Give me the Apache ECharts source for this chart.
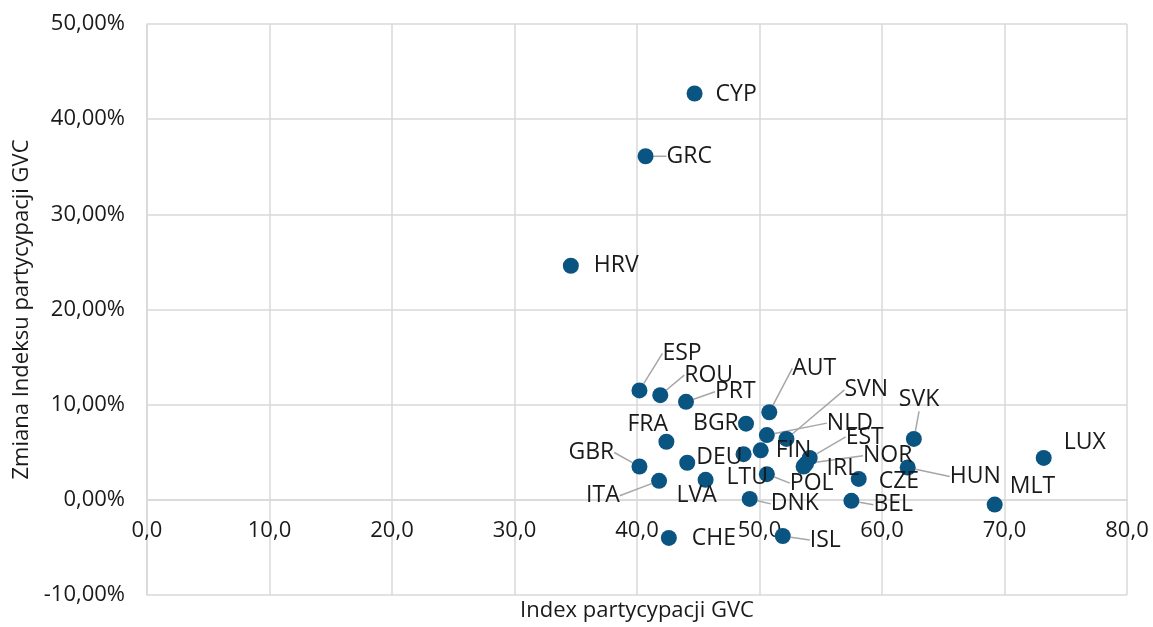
<!DOCTYPE html>
<html>
<head>
<meta charset="utf-8">
<script src="https://cdn.jsdelivr.net/npm/echarts@6/dist/echarts.min.js"></script>
<style>
  html, body { margin: 0; padding: 0; background: #fff; }
  #chart { width: 1153px; height: 627px; }
</style>
</head>
<body>
<div id="chart"></div>
<script>
// kraje
const countries = ['CYP', 'GRC', 'HRV', 'ESP', 'ROU', 'PRT', 'AUT', 'BGR', 'NLD', 'SVN',
    'FIN', 'FRA', 'DEU', 'GBR', 'ITA', 'LVA', 'LTU', 'POL', 'DNK', 'CHE',
    'ISL', 'EST', 'NOR', 'IRL', 'CZE', 'BEL', 'SVK', 'HUN', 'MLT', 'LUX'];
// Index partycypacji GVC
const gvcIndex = [44.7, 40.7, 34.6, 40.2, 41.9, 44.0, 50.8, 48.9, 50.6, 52.2,
    50.1, 42.4, 44.1, 40.2, 41.8, 45.6, 48.7, 50.6, 49.2, 42.6,
    51.9, 54.1, 53.8, 53.6, 58.1, 57.5, 62.6, 62.1, 69.2, 73.2];
// Zmiana indeksu (%)
const gvcChange = [42.7, 36.1, 24.6, 11.5, 11.0, 10.3, 9.2, 8.0, 6.8, 6.4,
    5.2, 6.1, 3.9, 3.5, 2.0, 2.1, 4.8, 2.7, 0.1, -4.0,
    -3.8, 4.4, 3.8, 3.5, 2.2, -0.1, 6.4, 3.4, -0.5, 4.4];

// przesuniecie etykiet (lewa krawedz / srodek wzgledem punktu)
const labelOffsets = {
    CYP: [21, 1], GRC: [21, 0], HRV: [23, 0], ESP: [23, -37], ROU: [24, -20],
    PRT: [29, -10], AUT: [23, -44], BGR: [-53, 0], NLD: [60, -12], SVN: [58, -49],
    FIN: [15, 0], FRA: [-39, -17], DEU: [9, -5], GBR: [-71, -14], ITA: [-73, 15],
    LVA: [-29, 16], LTU: [-17, 23], POL: [23, 9], DNK: [21, 5], CHE: [23, 1],
    ISL: [27, 4], EST: [36, -21], NOR: [57, -8], IRL: [23, 2], CZE: [20, 3],
    BEL: [22, 4], SVK: [-15, -39], HUN: [42, 9], MLT: [15, -18], LUX: [20, -16]
};
const withLeader = ['GRC', 'ESP', 'ROU', 'PRT', 'AUT', 'NLD', 'SVN', 'EST', 'NOR',
    'GBR', 'ITA', 'POL', 'DNK', 'ISL', 'BEL', 'SVK', 'HUN'];

const FONT = '"Open Sans", "Noto Sans", sans-serif';
const R = 8; // promien punktu
const GRID_COLOR = '#d9d9d9';

let data = countries.map(function (c, i) {
    return {
        name: c,
        value: [gvcIndex[i], gvcChange[i]],
        labelLine: { show: withLeader.indexOf(c) >= 0 }
    };
});

var myChart = echarts.init(document.getElementById('chart'));
option = {
    animation: false,
    grid: {
        left: 147,
        right: 26,
        top: 24,
        bottom: 32,
        outerBoundsMode: 'none',
        containLabel: false
    },
    xAxis: {
        type: 'value',
        min: 0,
        max: 80,
        interval: 10,
        // os X przesunieta na poziom 0% (jak w Excelu)
        offset: -95,
        name: 'Index partycypacji GVC',
        nameLocation: 'middle',
        nameGap: 100,
        nameTextStyle: { fontFamily: FONT, fontSize: 22, color: '#1a1a1a' },
        axisLine: { show: true, onZero: false, lineStyle: { color: GRID_COLOR, width: 1.5 } },
        axisTick: { show: false },
        axisLabel: {
            margin: 20,
            fontFamily: FONT,
            fontSize: 22,
            color: '#1a1a1a',
            formatter: function (v) { return v.toFixed(1).replace('.', ','); }
        },
        splitLine: { lineStyle: { color: GRID_COLOR, width: 1.5 } }
    },
    yAxis: {
        type: 'value',
        min: -10,
        max: 50,
        interval: 10,
        name: 'Zmiana Indeksu partycypacji GVC',
        nameLocation: 'middle',
        nameGap: 112,
        nameTextStyle: { fontFamily: FONT, fontSize: 22, color: '#1a1a1a' },
        axisLine: { show: true, onZero: false, lineStyle: { color: GRID_COLOR, width: 1.5 } },
        axisTick: { show: false },
        axisLabel: {
            margin: 22,
            fontFamily: FONT,
            fontSize: 22,
            color: '#1a1a1a',
            formatter: function (v) { return v.toFixed(2).replace('.', ',') + '%'; }
        },
        splitLine: { lineStyle: { color: GRID_COLOR, width: 1.5 } }
    },
    series: [{
        type: 'scatter',
        symbolSize: R * 2,
        itemStyle: { color: '#0a5482', opacity: 1 },
        data: data,
        label: {
            show: true,
            position: 'right',
            distance: 0,
            formatter: '{b}',
            fontFamily: FONT,
            fontSize: 23,
            color: '#1a1a1a'
        },
        labelLine: {
            lineStyle: { color: '#a6a6a6', width: 1.5 }
        },
        labelLayout: function (params) {
            let off = labelOffsets[countries[params.dataIndex]];
            return { dx: off[0] - R, dy: off[1] };
        },
        z: 3
    }]
};
myChart.setOption(option);
</script>
</body>
</html>
